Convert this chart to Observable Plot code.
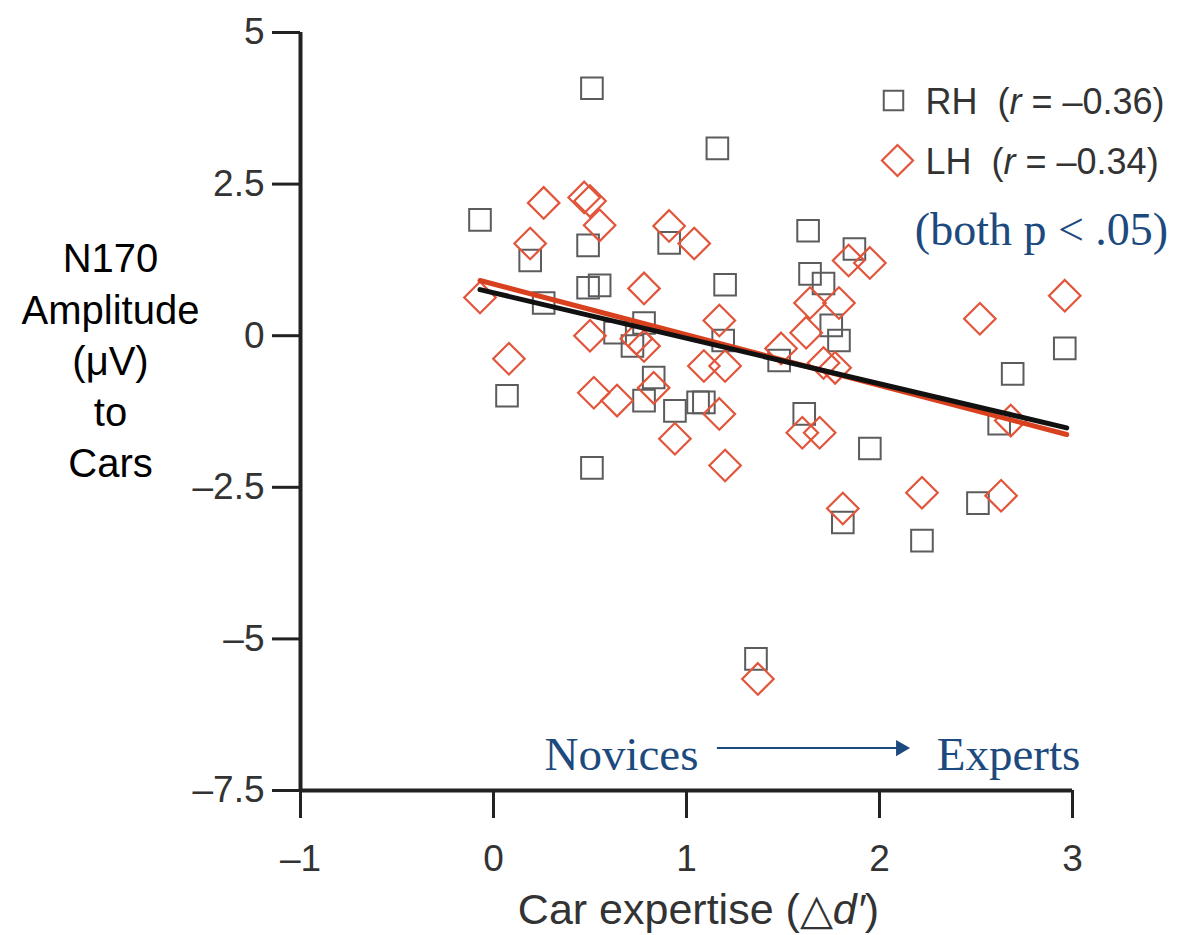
<!DOCTYPE html>
<html><head><meta charset="utf-8">
<script src="https://cdn.jsdelivr.net/npm/d3@7"></script>
<script src="https://cdn.jsdelivr.net/npm/@observablehq/plot@0.6"></script>
<style>body{margin:0;background:#fff;} #chart{width:1197px;height:935px;}</style>
</head><body><div id="chart"></div>
<script>
// Right hemisphere (squares)
const rhX = [0.51, 1.16, -0.07, 0.19, 0.49, 0.91, 1.20, 0.49, 0.55, 0.26, 0.78, 0.63, 0.72, 1.19, 0.07, 0.78, 0.83, 0.94, 1.06, 1.09, 0.51, 1.63, 1.87, 1.64, 1.71, 1.75, 1.79, 1.48, 1.61, 1.95, 1.81, 2.96, 2.69, 2.62, 2.51, 2.22, 1.36];
const rhY = [4.08, 3.09, 1.91, 1.24, 1.49, 1.53, 0.84, 0.79, 0.83, 0.54, 0.21, 0.05, -0.17, -0.08, -0.99, -1.07, -0.69, -1.24, -1.10, -1.10, -2.18, 1.73, 1.43, 1.02, 0.86, 0.17, -0.08, -0.41, -1.29, -1.86, -3.08, -0.21, -0.63, -1.45, -2.76, -3.38, -5.33];
// Left hemisphere (diamonds)
const lhX = [0.26, 0.47, 0.50, 0.55, 0.19, 0.91, 1.04, 0.78, -0.07, 0.50, 0.74, 0.78, 1.17, 1.09, 1.20, 0.08, 0.52, 0.64, 0.83, 1.17, 0.94, 1.20, 1.84, 1.95, 1.64, 1.79, 1.62, 1.49, 1.71, 1.77, 1.60, 1.69, 1.81, 2.96, 2.52, 2.68, 2.22, 2.63, 1.37];
const lhY = [2.19, 2.28, 2.22, 1.82, 1.52, 1.81, 1.52, 0.78, 0.63, 0.00, -0.05, -0.17, 0.25, -0.50, -0.50, -0.38, -0.94, -1.07, -0.86, -1.29, -1.70, -2.14, 1.24, 1.20, 0.54, 0.54, 0.05, -0.21, -0.45, -0.53, -1.60, -1.60, -2.85, 0.66, 0.28, -1.40, -2.59, -2.64, -5.66];
// Regression lines (endpoints)
const rhFitX = [-0.07, 2.97];
const rhFitY = [0.76, -1.52];
const lhFitX = [-0.07, 2.97];
const lhFitY = [0.91, -1.63];
// Ticks & labels
const xTicks = [-1, 0, 1, 2, 3];
const yTicks = [5, 2.5, 0, -2.5, -5, -7.5];
const yTitleLines = ["N170", "Amplitude", "(μV)", "to", "Cars"];
const xTitle = "Car expertise (△d′)";
const legendRH = "RH\u00a0\u00a0(r = –0.36)";
const legendLH = "LH\u00a0\u00a0(r = –0.34)";
const sigNote = "(both p < .05)";
const novices = "Novices";
const experts = "Experts";
const arrowFrom = [1.16], arrowTo = [2.11], arrowLevel = [-6.8];

const rh = rhX.map((x, i) => ({x, y: rhY[i]}));
const lh = lhX.map((x, i) => ({x, y: lhY[i]}));
const rhFit = rhFitX.map((x, i) => ({x, y: rhFitY[i]}));
const lhFit = lhFitX.map((x, i) => ({x, y: lhFitY[i]}));

const GRAY = "#5c5c5c", RED = "#e2553a", NAVY = "#1d4a7e";
const sans = "'Liberation Sans', Arial, Helvetica, sans-serif";
const serif = "'Liberation Serif', 'Times New Roman', serif";
const fmt = d => d < 0 ? "–" + Math.abs(d) : String(d);

const plot = Plot.plot({
  width: 1197, height: 935,
  marginLeft: 300, marginRight: 125, marginTop: 32, marginBottom: 145,
  style: {fontFamily: sans, background: "#fff", color: "#333", overflow: "visible"},
  x: {domain: [-1, 3]},
  y: {domain: [-7.5, 5]},
  marks: [
    Plot.axisX({ticks: xTicks, tickSize: 28, tickPadding: 26, fontSize: 37, strokeWidth: 3, stroke: "#222", fill: "#333", label: null, tickFormat: fmt}),
    Plot.axisY({ticks: yTicks, tickSize: 28, tickPadding: 8, fontSize: 37, strokeWidth: 3, stroke: "#222", fill: "#333", label: null, tickFormat: fmt}),
    Plot.ruleX([xTicks[0]], {y1: yTicks[yTicks.length - 1], y2: yTicks[0], stroke: "#222", strokeWidth: 4}),
    Plot.ruleY([yTicks[yTicks.length - 1]], {x1: xTicks[0], x2: xTicks[xTicks.length - 1], stroke: "#222", strokeWidth: 4}),
    Plot.dot(rh, {x: "x", y: "y", symbol: "square", r: 12.2, stroke: GRAY, strokeWidth: 2, fill: "none"}),
    Plot.dot(lh, {x: "x", y: "y", symbol: "diamond2", r: 14.2, stroke: RED, strokeWidth: 2.2, fill: "none"}),
    Plot.line(lhFit, {x: "x", y: "y", stroke: "#d8401e", strokeWidth: 5}),
    Plot.line(rhFit, {x: "x", y: "y", stroke: "#111", strokeWidth: 5}),
    // legend
    Plot.dot(["RH"], {frameAnchor: "top-right", dx: -179, dy: 68, symbol: "square", r: 11, stroke: GRAY, strokeWidth: 2, fill: "none"}),
    Plot.dot(["LH"], {frameAnchor: "top-right", dx: -175, dy: 128, symbol: "diamond2", r: 14, stroke: RED, strokeWidth: 2.2, fill: "none"}),
    Plot.text([legendRH], {frameAnchor: "top-right", dx: -147, dy: 70, textAnchor: "start", lineAnchor: "middle", fontSize: 36, fill: "#333", text: d => d}),
    Plot.text([legendLH], {frameAnchor: "top-right", dx: -147, dy: 130, textAnchor: "start", lineAnchor: "middle", fontSize: 36, fill: "#333", text: d => d}),
    Plot.text([sigNote], {frameAnchor: "top-right", dx: -31, dy: 198, textAnchor: "middle", lineAnchor: "middle", fontSize: 46, fontFamily: serif, fill: NAVY, text: d => d}),
    // Novices -> Experts
    Plot.text([novices], {frameAnchor: "bottom-left", dx: 321, dy: -36, textAnchor: "middle", lineAnchor: "middle", fontSize: 47, fontFamily: serif, fill: NAVY, text: d => d}),
    Plot.text([experts], {frameAnchor: "bottom-right", dx: -64, dy: -36, textAnchor: "middle", lineAnchor: "middle", fontSize: 47, fontFamily: serif, fill: NAVY, text: d => d}),
    Plot.ruleY(arrowLevel, {x1: () => arrowFrom[0], x2: () => arrowTo[0], stroke: NAVY, strokeWidth: 2}),
    Plot.dot(arrowLevel, {x: () => arrowTo[0], y: d => d, symbol: "triangle", rotate: 90, r: 6, fill: NAVY, stroke: "none"}),
    // axis titles
    Plot.text([yTitleLines.join("\n")], {frameAnchor: "left", dx: -190, dy: -53, textAnchor: "middle", lineAnchor: "middle", lineHeight: 1.28, fontSize: 40, fill: "#000", text: d => d}),
    Plot.text([xTitle], {frameAnchor: "bottom", dx: 12, dy: 120, textAnchor: "middle", lineAnchor: "middle", fontSize: 43, fill: "#333", text: d => d})
  ]
});

// italic letters in legend and x title
d3.select(plot).selectAll("text").each(function() {
  const t = this.textContent;
  const sel = d3.select(this);
  if (t === legendRH || t === legendLH) {
    const rest = t.slice(t.indexOf("(") + 2);
    const head = t.slice(0, t.indexOf("(") + 1);
    sel.text(null);
    sel.append("tspan").text(head);
    sel.append("tspan").attr("font-style", "italic").text("r");
    sel.append("tspan").text(rest);
  } else if (t === xTitle) {
    sel.text(null);
    sel.append("tspan").text("Car expertise (△");
    sel.append("tspan").attr("font-style", "italic").text("d′");
    sel.append("tspan").text(")");
  }
});

document.getElementById("chart").appendChild(plot);
</script>
</body></html>
